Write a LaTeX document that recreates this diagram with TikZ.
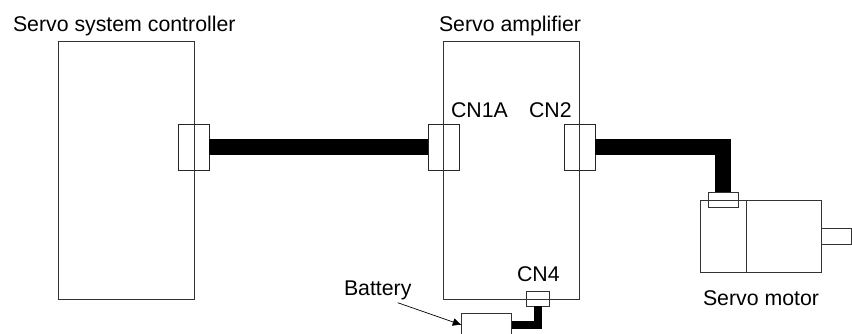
\documentclass[tikz,border=0pt]{standalone}
\usepackage{fontspec}
\setmainfont{Liberation Sans}
\usepackage{tikz}
\usetikzlibrary{calc, positioning, arrows.meta}

\tikzset{
    unitbox/.style={draw=black!80, line width=0.9pt, inner sep=0pt, outer sep=0pt},
    plugbox/.style={draw=black!85, line width=0.9pt, inner sep=0pt, outer sep=0pt, minimum width=31pt, minimum height=46pt},
    cablewire/.style={line width=15.5pt, black},
    thinwire/.style={line width=7.5pt, black},
    caption/.style={inner sep=0pt, outer sep=0pt, anchor=base west, font=\fontsize{21.3}{24}\selectfont}
}

\begin{document}
\begin{tikzpicture}[>={Latex[length=9pt,width=8pt]}, x=1pt, y=-1pt]
    \useasboundingbox (0,0) rectangle (852,334);
    \clip (0,0) rectangle (852,334);

    % 1. Controller and amplifier
    \node[unitbox, minimum width=136pt, minimum height=258pt] (controller) at (126,170) {};
    \node[unitbox, minimum width=136pt, minimum height=258pt] (amplifier) at (511.4,170) {};

    % 2. Connectors
    \node[plugbox] (ctrlcn) at (193.7,147) {};
    \node[plugbox] (cnonea) at (443.5,147) {};
    \node[plugbox] (cntwo) at (579.5,147) {};
    \node[unitbox, minimum width=22.6pt, minimum height=14.7pt] (cnfour) at (538,298.6) {};

    % 3. Motor
    \node[unitbox, minimum width=45.3pt, minimum height=72pt] (motorend) at (723.3,236.3) {};
    \node[unitbox, minimum width=75.7pt, minimum height=72pt, right=0pt of motorend] (motorbody) {};
    \node[unitbox, minimum width=30pt, minimum height=15.7pt, right=0pt of motorbody] (motorshaft) {};
    \node[unitbox, minimum width=30.3pt, minimum height=15.5pt] (motorcn) at (723.2,200.2) {};

    % 4. Battery
    \node[unitbox, minimum width=50pt, minimum height=22.6pt] (battery) at (486.7,325) {};

    % 5. Cables
    \draw[cablewire] (ctrlcn.east) -- (cnonea.west);
    \draw[cablewire] (cntwo.east) -| (motorcn.north);
    \draw[thinwire] (battery.east) -| (cnfour.south);

    % 6. Labels
    \node[caption] (ctrllabel) at (13,32) {Servo system controller};
    \node[caption] (amplabel) at (439,32) {Servo amplifier};
    \node[caption] (cnonealabel) at (451,118) {CN1A};
    \node[caption] (cntwolabel) at (529,118) {CN2};
    \node[caption] (cnfourlabel) at (517,281) {CN4};
    \node[caption] (batterylabel) at (344,295) {Battery};
    \node[caption] (motorlabel) at (703,305) {Servo motor};

    \coordinate (batterytail) at (397.7,302.7);
    \draw[->, line width=0.7pt] (batterytail) -- (battery.west);
\end{tikzpicture}
\end{document}
